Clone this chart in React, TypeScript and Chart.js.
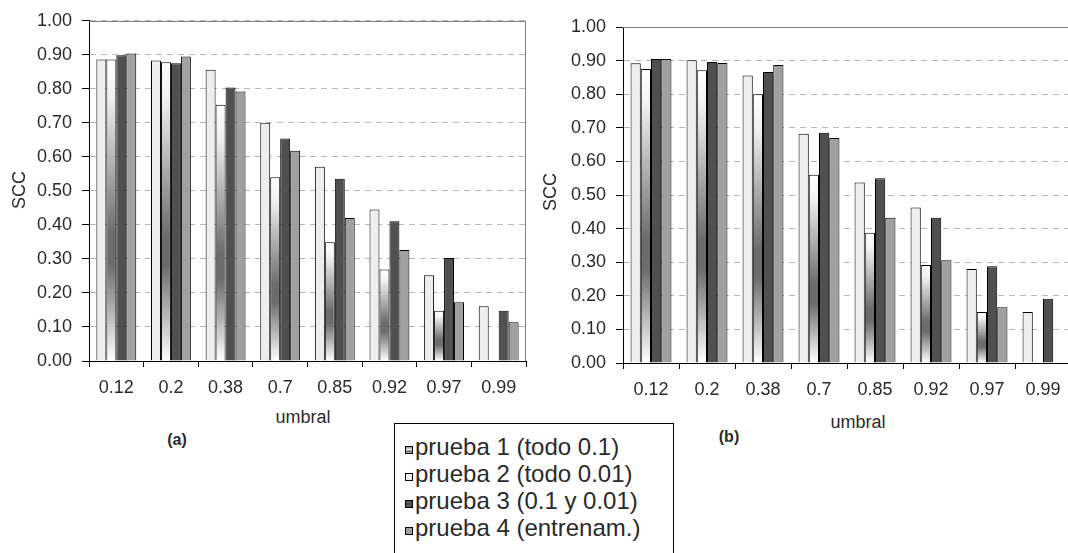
import React, { useEffect, useRef } from 'react';
import { Chart, registerables } from 'chart.js';

Chart.register(...registerables);

// ---- data ----
const categories = ['0.12', '0.2', '0.38', '0.7', '0.85', '0.92', '0.97', '0.99'];

// chart (a)
const aPrueba2 = [0.886, 0.883, 0.856, 0.700, 0.571, 0.445, 0.252, 0.161];
const aPrueba1 = [0.886, 0.878, 0.753, 0.540, 0.349, 0.269, 0.148, null];
const aPrueba3 = [0.899, 0.875, 0.804, 0.654, 0.536, 0.411, 0.303, 0.148];
const aPrueba4 = [0.904, 0.895, 0.792, 0.618, 0.420, 0.326, 0.173, 0.114];

// chart (b)
const bPrueba2 = [0.892, 0.901, 0.856, 0.682, 0.537, 0.463, 0.280, 0.152];
const bPrueba1 = [0.875, 0.871, 0.800, 0.560, 0.388, 0.292, 0.152, null];
const bPrueba3 = [0.905, 0.896, 0.866, 0.685, 0.550, 0.432, 0.288, 0.191];
const bPrueba4 = [0.905, 0.893, 0.887, 0.670, 0.432, 0.306, 0.166, null];

const legendLabels = ['prueba 1 (todo 0.1)', 'prueba 2 (todo 0.01)', 'prueba 3 (0.1 y 0.01)', 'prueba 4 (entrenam.)'];
const yAxisTitle = 'SCC';
const xAxisTitle = 'umbral';
const yMin = 0;
const yMax = 1;
const yStep = 0.1;

const FONT = "'Liberation Sans', Arial, sans-serif";
const TEXT = '#2a2a2a';
const LIGHT = '#eeeeee';
const DARK = '#505050';
const MID = '#a0a0a0';

function gradientFill(context: any) {
  const chart = context.chart;
  const { ctx, chartArea, scales } = chart;
  const v = context.raw;
  if (!chartArea || v == null) return '#ffffff';
  const top = scales.y.getPixelForValue(v);
  const bottom = scales.y.getPixelForValue(0);
  if (!(bottom > top)) return '#ffffff';
  const g = ctx.createLinearGradient(0, top, 0, bottom);
  g.addColorStop(0, '#ffffff');
  g.addColorStop(0.12, '#f2f2f2');
  g.addColorStop(0.58, '#6c6c6c');
  g.addColorStop(0.68, '#6c6c6c');
  g.addColorStop(1, '#ffffff');
  return g;
}

const framePlugin = {
  id: 'frame',
  beforeDatasetsDraw(chart: any) {
    const { ctx, chartArea: a } = chart;
    ctx.save();
    ctx.strokeStyle = '#808080';
    ctx.lineWidth = 1;
    ctx.setLineDash([]);
    ctx.beginPath();
    ctx.moveTo(a.left, Math.round(a.top) + 0.5);
    ctx.lineTo(a.right, Math.round(a.top) + 0.5);
    ctx.moveTo(Math.round(a.right) - 0.5, a.top);
    ctx.lineTo(Math.round(a.right) - 0.5, a.bottom);
    ctx.stroke();
    ctx.restore();
  },
};

type PanelProps = {
  series: (number | null)[][];
  left: number;
  width: number;
  height: number;
  axisWidth: number;
  padTop: number;
  padRight: number;
  xAxisHeight: number;
};

function Panel({ series, left, width, height, axisWidth, padTop, padRight, xAxisHeight }: PanelProps) {
  const ref = useRef<HTMLCanvasElement>(null);
  useEffect(() => {
    if (!ref.current) return;
    const fills: any[] = [LIGHT, gradientFill, DARK, MID];
    const chart = new Chart(ref.current, {
      type: 'bar',
      data: {
        labels: categories,
        datasets: series.map((d, i) => ({
          label: legendLabels[[1, 0, 2, 3][i]],
          data: d,
          backgroundColor: fills[i],
          borderColor: '#000000',
          borderWidth: 1,
          categoryPercentage: 0.73,
          barPercentage: 1.0,
        })),
      },
      options: {
        animation: false,
        responsive: false,
        maintainAspectRatio: false,
        devicePixelRatio: 1,
        layout: { padding: { left: 0, top: padTop, right: padRight, bottom: 0 } },
        plugins: { legend: { display: false }, tooltip: { enabled: false }, title: { display: false } },
        scales: {
          x: {
            offset: true,
            grid: {
              display: true,
              offset: true,
              drawOnChartArea: false,
              tickLength: 6,
              tickColor: '#000000',
              tickWidth: 1,
            },
            border: { display: true, color: '#000000', width: 1 },
            ticks: { color: TEXT, font: { family: FONT, size: 18 }, padding: 10, maxRotation: 0, autoSkip: false },
            afterFit: (s: any) => { s.height = xAxisHeight; },
          },
          y: {
            min: yMin,
            max: yMax,
            grid: {
              color: '#b8b8b8',
              lineWidth: 1,
              tickLength: 7,
              tickColor: '#000000',
              tickBorderDash: [],
              tickWidth: 1,
            },
            border: { display: true, color: '#000000', width: 1, dash: [6, 5] },
            ticks: {
              stepSize: yStep,
              color: TEXT,
              font: { family: FONT, size: 18 },
              padding: 10,
              callback: (v: any) => Number(v).toFixed(2),
            },
            afterFit: (s: any) => { s.width = axisWidth; },
          },
        },
      },
      plugins: [framePlugin],
    });
    return () => chart.destroy();
  }, []);
  return (
    <canvas
      ref={ref}
      width={width}
      height={height}
      style={{ position: 'absolute', left, top: 0, width, height }}
    />
  );
}

function Txt({ x, y, children, bold, size, rotate }: any) {
  return (
    <div
      style={{
        position: 'absolute',
        left: x,
        top: y,
        transform: `translate(-50%, -50%)${rotate ? ' rotate(-90deg)' : ''}`,
        whiteSpace: 'nowrap',
        lineHeight: 1,
        fontFamily: FONT,
        fontSize: size || 18,
        fontWeight: bold ? 'bold' : 'normal',
        color: TEXT,
      }}
    >
      {children}
    </div>
  );
}

const legendSwatches = [
  'linear-gradient(to bottom, #9a9a9a 0%, #e8e8e8 45%, #6a6a6a 75%, #bdbdbd 100%)',
  '#eeeeee',
  '#505050',
  '#a0a0a0',
];

export default function App() {
  return (
    <div
      style={{
        position: 'fixed',
        left: 0,
        top: 0,
        width: 1068,
        height: 553,
        overflow: 'hidden',
        background: '#ffffff',
      }}
    >
      <Panel
        series={[aPrueba2, aPrueba1, aPrueba3, aPrueba4]}
        left={0}
        width={530}
        height={400}
        axisWidth={89}
        padTop={20}
        padRight={4}
        xAxisHeight={39}
      />
      <Panel
        series={[bPrueba2, bPrueba1, bPrueba3, bPrueba4]}
        left={530}
        width={560}
        height={400}
        axisWidth={93}
        padTop={27}
        padRight={19}
        xAxisHeight={37}
      />
      <Txt x={19} y={190} rotate>{yAxisTitle}</Txt>
      <Txt x={550} y={192} rotate>{yAxisTitle}</Txt>
      <Txt x={303} y={417}>{xAxisTitle}</Txt>
      <Txt x={858} y={422}>{xAxisTitle}</Txt>
      <Txt x={177} y={440} bold size={16}>(a)</Txt>
      <Txt x={729} y={437} bold size={16}>(b)</Txt>
      <div
        style={{
          position: 'absolute',
          left: 394,
          top: 423,
          width: 280,
          height: 200,
          border: '1px solid #000',
          borderBottom: 'none',
          boxSizing: 'border-box',
        }}
      />
      {legendLabels.map((lab, i) => (
        <React.Fragment key={lab}>
          <div
            style={{
              position: 'absolute',
              left: 405,
              top: 446 + i * 27,
              width: 8,
              height: 8,
              border: '1px solid #000',
              boxSizing: 'border-box',
              background: legendSwatches[i],
            }}
          />
          <div
            style={{
              position: 'absolute',
              left: 415,
              top: 447 + i * 27,
              transform: 'translateY(-50%)',
              whiteSpace: 'nowrap',
              lineHeight: 1,
              fontFamily: FONT,
              fontSize: 24,
              color: TEXT,
            }}
          >
            {lab}
          </div>
        </React.Fragment>
      ))}
    </div>
  );
}
